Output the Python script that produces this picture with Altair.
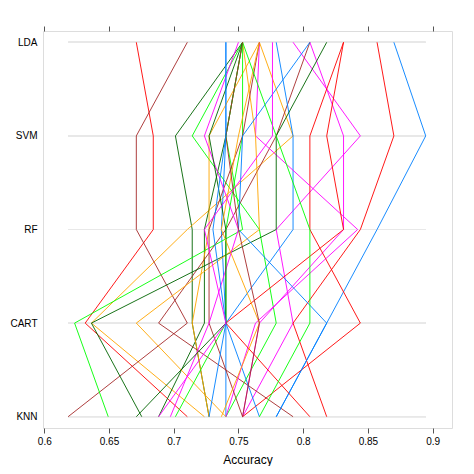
import altair as alt
import pandas as pd

models = ["LDA", "SVM", "RF", "CART", "KNN"]
resamples = [f"Fold{f:02d}.Rep{r}" for f in range(1, 11) for r in range(1, 4)]

knn = [0.7792, 0.7532, 0.7273, 0.7105, 0.7237, 0.7403, 0.6184, 0.7403, 0.7532, 0.6883,
       0.7532, 0.7273, 0.6494, 0.7922, 0.7662, 0.7403, 0.6753, 0.8182, 0.7403, 0.7013,
       0.7532, 0.7792, 0.6974, 0.6711, 0.8052, 0.7368, 0.7662, 0.7532, 0.7273, 0.6883]
cart = [0.8182, 0.7922, 0.7143, 0.6316, 0.6364, 0.7792, 0.7105, 0.7403, 0.7662, 0.7237,
        0.8442, 0.7143, 0.6234, 0.6883, 0.7403, 0.7632, 0.6364, 0.7922, 0.6711, 0.7403,
        0.7273, 0.8182, 0.7273, 0.7403, 0.7403, 0.7662, 0.8052, 0.7662, 0.7403, 0.7403]
rf = [0.8571, 0.7792, 0.7143, 0.6842, 0.7105, 0.7662, 0.6711, 0.7368, 0.8312, 0.7237,
      0.8052, 0.7273, 0.7532, 0.7403, 0.7922, 0.8421, 0.7792, 0.8442, 0.7662, 0.7403,
      0.7273, 0.7500, 0.7500, 0.7403, 0.8312, 0.7368, 0.8052, 0.7500, 0.7303, 0.7237]
svm = [0.8947, 0.8442, 0.7013, 0.6842, 0.7922, 0.7143, 0.6711, 0.7403, 0.8312, 0.7403,
       0.8052, 0.7273, 0.7403, 0.7792, 0.7922, 0.7632, 0.7792, 0.8701, 0.7632, 0.7532,
       0.7532, 0.7532, 0.7237, 0.7273, 0.8182, 0.7500, 0.7792, 0.7403, 0.7403, 0.7763]
lda = [0.8701, 0.7922, 0.7532, 0.6711, 0.7662, 0.7532, 0.7105, 0.7403, 0.8052, 0.7532,
       0.8312, 0.7662, 0.7532, 0.8052, 0.7792, 0.7662, 0.8182, 0.8571, 0.7532, 0.7532,
       0.7662, 0.8052, 0.7500, 0.7532, 0.8312, 0.7662, 0.7532, 0.7532, 0.7403, 0.7763]

palette = ["#0080ff", "#ff00ff", "#006400", "#ff0000", "#ffa500", "#00ff00", "#a52a2a"]
x_ticks = [0.6, 0.65, 0.7, 0.75, 0.8, 0.85, 0.9]

cols = {"LDA": lda, "SVM": svm, "RF": rf, "CART": cart, "KNN": knn}
bottom_up = models[::-1]  # KNN at position 0 (bottom) ... LDA at top
rows = []
for i, r in enumerate(resamples):
    for j, m in enumerate(bottom_up):
        rows.append({"Resample": r, "Model": m, "pos": j, "Accuracy": cols[m][i]})
df = pd.DataFrame(rows)

color_range = [palette[i % len(palette)] for i in range(len(resamples))]

FONT = "Liberation Sans"
xscale = alt.Scale(domain=[0.599, 0.915], nice=False, zero=False)
yscale = alt.Scale(domain=[-0.1206, len(models) - 1 + 0.1206], nice=False, zero=False)
label_expr = "[" + ",".join(f"'{m}'" for m in bottom_up) + "][datum.value]"

base = alt.Chart(df)

ref = base.transform_joinaggregate(
    lo="min(Accuracy)", hi="max(Accuracy)"
).mark_rule(color="#e8e8e8", strokeWidth=1).encode(
    x=alt.X("lo:Q", scale=xscale,
            axis=alt.Axis(orient="top", labels=False, title=None, values=x_ticks,
                          ticks=True, tickSize=5, tickColor="#555", domain=False, grid=False)),
    x2="hi:Q",
    y=alt.Y("pos:Q", scale=yscale,
            axis=alt.Axis(title=None, ticks=False, domain=False, labelPadding=6,
                          values=list(range(len(models))), labelExpr=label_expr,
                          labelFontSize=10, labelFont=FONT, labelColor="#000", grid=False)),
)

lines = base.mark_line(strokeWidth=1, opacity=0.9).encode(
    x=alt.X("Accuracy:Q", scale=xscale,
            axis=alt.Axis(orient="bottom", values=x_ticks, format="~g", title="Accuracy",
                          tickSize=5, tickColor="#555", domain=False, grid=False,
                          labelFontSize=10, labelFont=FONT, labelColor="#000",
                          labelPadding=3, titleFont=FONT, titleFontSize=12,
                          titleFontWeight="normal", titleColor="#000", titlePadding=8)),
    y=alt.Y("pos:Q", scale=yscale),
    detail="Resample:N",
    color=alt.Color("Resample:N", scale=alt.Scale(domain=resamples, range=color_range), legend=None),
    order=alt.Order("pos:Q"),
)

chart = alt.layer(ref, lines).resolve_axis(x="independent").properties(
    width=409, height=397,
    autosize=alt.AutoSizeParams(type="none"),
    padding={"left": 35, "top": 23, "right": 14, "bottom": 38},
).configure_view(stroke="#666", strokeWidth=1).configure(background="white")

chart.save("out.html", embed_options={"renderer": "svg", "actions": False})
